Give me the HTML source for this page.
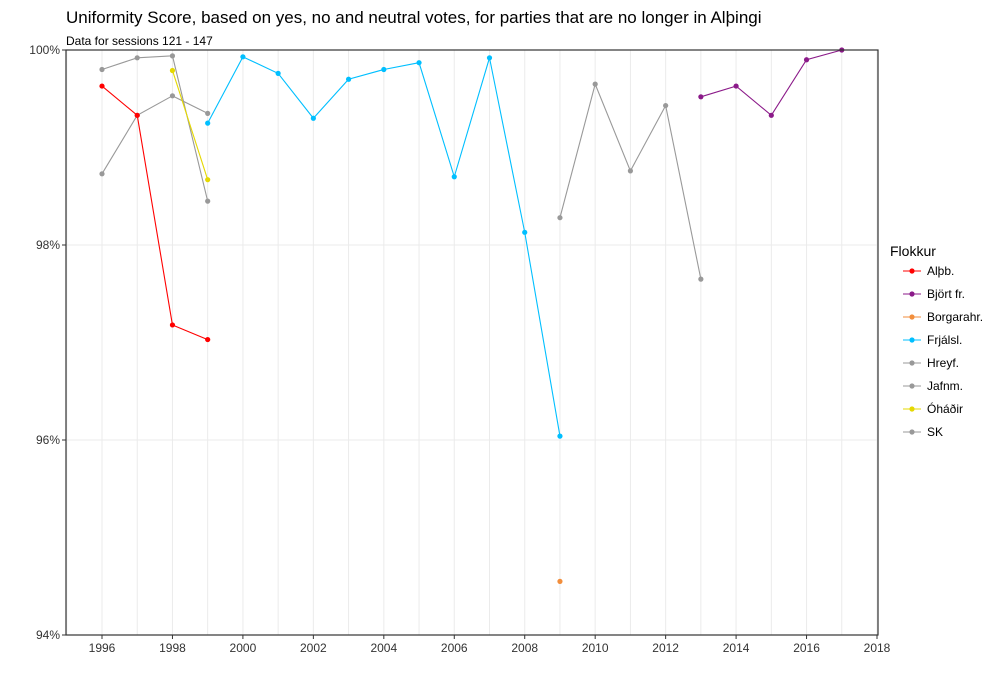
<!DOCTYPE html>
<html><head><meta charset="utf-8"><style>
body{margin:0;background:#fff;font-family:"Liberation Sans",sans-serif;}
svg text{font-family:"Liberation Sans",sans-serif;}
</style></head><body>
<svg id="c" width="1000" height="679" xmlns="http://www.w3.org/2000/svg">
<text x="66" y="23" font-size="17" fill="#000">Uniformity Score, based on yes, no and neutral votes, for parties that are no longer in Alþingi</text>
<text x="66" y="45" font-size="12" fill="#000">Data for sessions 121 - 147</text>
<g id="grid"></g><g id="marks"></g><g id="axes"></g><g id="legend"></g>
</svg>
<script>
const seriesNames=["Alþb.","Björt fr.","Borgarahr.","Frjálsl.","Hreyf.","Jafnm.","Óháðir","SK"];
const seriesColors=["#ff0000","#8b1a89","#f28e3c","#00bfff","#999999","#999999","#e5d800","#999999"];
const alpbYears=[1996,1997,1998,1999];
const alpbValues=[99.63,99.33,97.18,97.03];
const bjortYears=[2013,2014,2015,2016,2017];
const bjortValues=[99.52,99.63,99.33,99.9,100];
const borgYears=[2009];
const borgValues=[94.55];
const frjalsYears=[1999,2000,2001,2002,2003,2004,2005,2006,2007,2008,2009];
const frjalsValues=[99.25,99.93,99.76,99.3,99.7,99.8,99.87,98.7,99.92,98.13,96.04];
const hreyfYears=[2009,2010,2011,2012,2013];
const hreyfValues=[98.28,99.65,98.76,99.43,97.65];
const jafnYears=[1996,1997,1998,1999];
const jafnValues=[98.73,99.33,99.53,99.35];
const ohadYears=[1998,1999];
const ohadValues=[99.79,98.67];
const skYears=[1996,1997,1998,1999];
const skValues=[99.8,99.92,99.94,98.45];
const xTicks=[1996,1998,2000,2002,2004,2006,2008,2010,2012,2014,2016,2018];
const yTicks=[94,96,98,100];

const L=66,R=878,T=50,B=635;
const xs=y=>102+(y-1996)*(877-102)/22;
const ys=v=>B-(v-94)*(B-T)/6;
const NS="http://www.w3.org/2000/svg";
function mk(p,tag,a){const e=document.createElementNS(NS,tag);for(const k in a)e.setAttribute(k,a[k]);p.appendChild(e);return e;}
const grid=document.getElementById('grid'),marks=document.getElementById('marks'),axes=document.getElementById('axes'),lg=document.getElementById('legend');
for(let y=1995;y<=2018;y++){const g=mk(grid,'line',{x1:xs(y),x2:xs(y),y1:T,y2:B,stroke:'#ebebeb','stroke-width':1});

}
yTicks.forEach(v=>{const g=mk(grid,'line',{x1:L,x2:R,y1:ys(v),y2:ys(v),stroke:'#ebebeb','stroke-width':1});

});
const data=[[alpbYears,alpbValues],[bjortYears,bjortValues],[borgYears,borgValues],[frjalsYears,frjalsValues],[hreyfYears,hreyfValues],[jafnYears,jafnValues],[ohadYears,ohadValues],[skYears,skValues]];
const order=[4,5,7,0,1,2,3,6];
order.forEach(i=>{const [yr,vals]=data[i];const c=seriesColors[i];
if(yr.length>1){const pl=mk(marks,'polyline',{points:yr.map((y,j)=>xs(y)+','+ys(vals[j])).join(' '),fill:'none',stroke:c,'stroke-width':1.1});

}
yr.forEach((y,j)=>{const p=mk(marks,'circle',{cx:xs(y),cy:ys(vals[j]),r:2.6,fill:c});

});});
const box=mk(axes,'rect',{x:L,y:T,width:R-L,height:B-T,fill:'none',stroke:'#333','stroke-width':1.2});


xTicks.forEach(y=>{mk(axes,'line',{x1:xs(y),x2:xs(y),y1:B,y2:B+4,stroke:'#333'});
const t=mk(axes,'text',{x:xs(y),y:B+17,'font-size':12,'text-anchor':'middle',fill:'#333'});t.textContent=y;

});
yTicks.forEach(v=>{mk(axes,'line',{x1:L-4,x2:L,y1:ys(v),y2:ys(v),stroke:'#333'});
const t=mk(axes,'text',{x:L-6,y:ys(v)+4,'font-size':12,'text-anchor':'end',fill:'#333'});t.textContent=v+'%';

});
const lt=mk(lg,'text',{x:890,y:256,'font-size':14,fill:'#000'});lt.textContent='Flokkur';


seriesNames.forEach((n,i)=>{const y=271+i*23;const g=mk(lg,'g',{});


mk(g,'line',{x1:903,x2:921,y1:y,y2:y,stroke:seriesColors[i],'stroke-width':1.1});
mk(g,'circle',{cx:912,cy:y,r:2.6,fill:seriesColors[i]});
const t=mk(g,'text',{x:927,y:y+4,'font-size':12,fill:'#000'});t.textContent=n;});
</script>
</body></html>
